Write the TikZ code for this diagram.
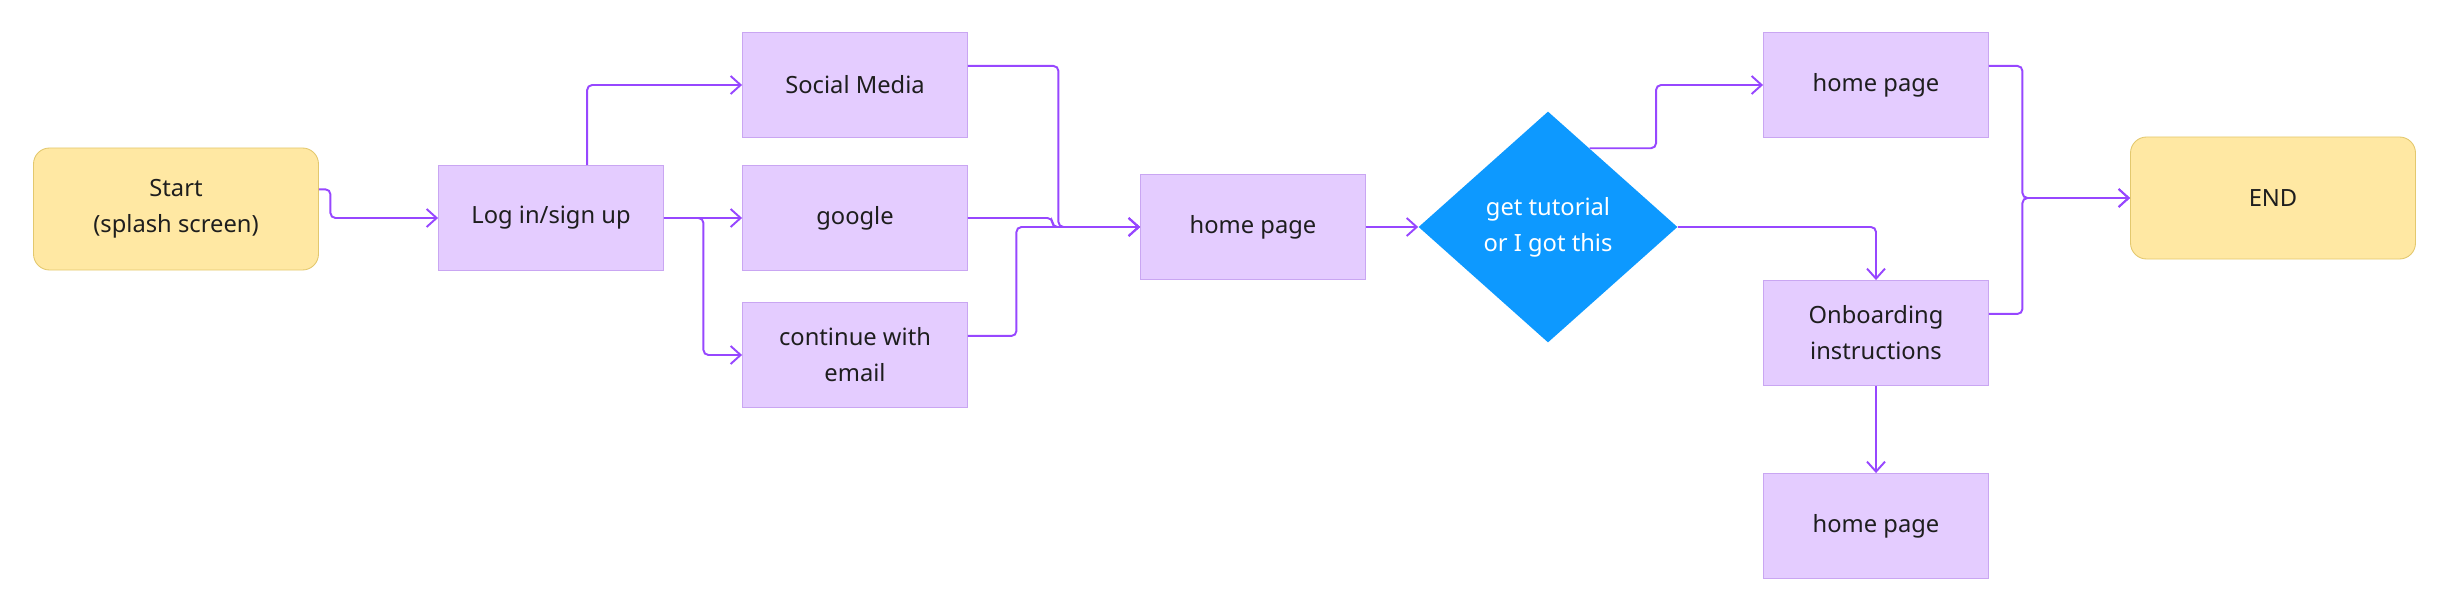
\documentclass[tikz,border=0pt]{standalone}
\usepackage{fontspec}
\setmainfont{Noto Sans}
\definecolor{flpurple}{HTML}{9747FF}
\definecolor{fllilac}{HTML}{E4CCFF}
\definecolor{fllilacedge}{HTML}{C9A6F2}
\definecolor{flyellow}{HTML}{FFE8A3}
\definecolor{flyellowedge}{HTML}{E3C86E}
\definecolor{flblue}{HTML}{0D99FF}
\definecolor{fltext}{HTML}{1E1E1E}
\usetikzlibrary{arrows.meta,calc,shapes.geometric}

\begin{document}
\begin{tikzpicture}[
  screen/.style={draw=fllilacedge,fill=fllilac,line width=0.5pt,minimum width=4.5cm,minimum height=2.1cm,inner sep=0pt,align=center,text=fltext},
  terminal/.style={draw=flyellowedge,fill=flyellow,line width=0.5pt,rounded corners=0.32cm,minimum width=5.7cm,minimum height=2.44cm,inner sep=0pt,align=center,text=fltext},
  choice/.style={diamond,fill=flblue,minimum width=5.18cm,minimum height=4.62cm,inner sep=0pt,align=center,text=white},
  link/.style={flpurple,line width=1.1pt,rounded corners=0.1cm,-{Straight Barb[length=0.2cm,width=0.36cm]}},
  font=\fontsize{13.5}{20.5}\selectfont
]
\useasboundingbox (0,0) rectangle (49,-12.24);
\node[terminal] (start) at (3.52,-4.18) {Start\\(splash screen)};
\node[screen] (login) at (11.02,-4.36) {Log in/sign up};
\node[screen] (social) at (17.1,-1.7) {Social Media};
\node[screen] (google) at (17.1,-4.36) {google};
\node[screen] (email) at (17.1,-7.1) {continue with\\email};
\node[screen] (home1) at (25.06,-4.54) {home page};
\node[choice] (tut) at (30.96,-4.54) {get tutorial\\or I got this};
\node[screen] (home2) at (37.52,-1.7) {home page};
\node[screen] (onboard) at (37.52,-6.66) {Onboarding\\instructions};
\node[screen] (home3) at (37.52,-10.52) {home page};
\node[terminal] (end) at (45.46,-3.96) {END};
% sign in
\draw[link] ($(start.north east)!0.34!(start.south east)$) -- ++(0.23,0) |- (login.west);
\draw[link] ($(login.north west)!0.66!(login.north east)$) |- (social.west);
\draw[link] (login.east) -- (google.west);
\draw[link] (login.east) -- ++(0.79,0) |- (email.west);
\draw[link] ($(social.north east)!0.32!(social.south east)$) -- ++(1.81,0) |- (home1.west);
\draw[link] (google.east) -- ++(1.69,0) |- (home1.west);
\draw[link] ($(email.north east)!0.32!(email.south east)$) -- ++(0.97,0) |- (home1.west);
% tutorial choice
\draw[link] (home1.east) -- (tut.west);
\draw[link] ($(tut.north)!0.32!(tut.east)$) -- ++(1.33,0) |- (home2.west);
\draw[link] (tut.east) -| (onboard.north);
\draw[link] (onboard.south) -- (home3.north);
% end
\draw[link] ($(home2.north east)!0.32!(home2.south east)$) -- ++(0.67,0) |- (end.west);
\draw[link] ($(onboard.north east)!0.32!(onboard.south east)$) -- ++(0.67,0) |- (end.west);
\end{tikzpicture}
\end{document}
